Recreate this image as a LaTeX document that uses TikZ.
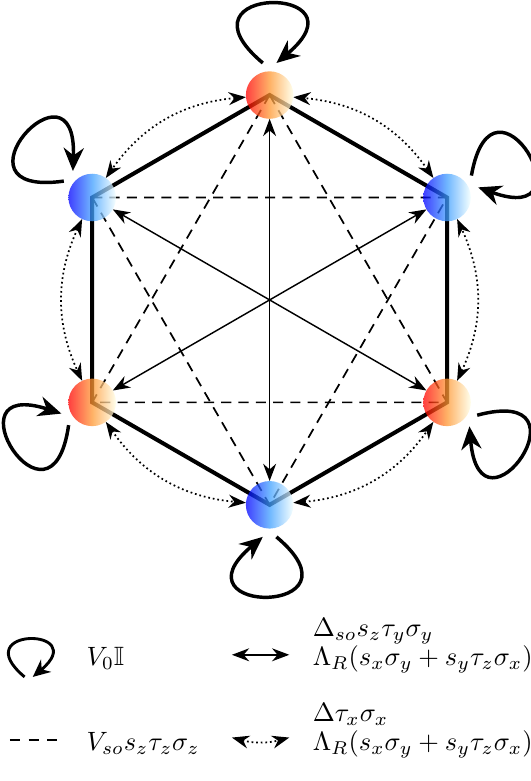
\documentclass[tikz,border=0pt]{standalone}
\usepackage{amsmath}
\usepackage{amssymb}
\usetikzlibrary{arrows.meta,calc}

\begin{document}
\begin{tikzpicture}[
  site/.style={circle, minimum size=0.58cm, inner sep=0pt, outer sep=0pt},
  redball/.style={left color=red, right color=yellow!10, middle color=orange!80, opacity=0.75},
  blueball/.style={left color=blue, right color=cyan!5, middle color=blue!50!cyan!75, opacity=0.75},
  hexedge/.style={line width=1.4pt},
  trimer/.style={dash pattern=on 3.5pt off 2.5pt, line width=0.6pt},
  across/.style={{Stealth[length=6pt,width=4.5pt]}-{Stealth[length=6pt,width=4.5pt]}, line width=0.5pt},
  hop/.style={{Stealth[length=6pt,width=4.5pt]}-{Stealth[length=6pt,width=4.5pt]}, densely dotted, line width=0.6pt},
  selfloop/.style={-{Stealth[length=8pt,width=7pt]}, line width=1.2pt},
  legtext/.style={anchor=base west, inner sep=0pt, scale=0.92, transform shape}
]
  \useasboundingbox (-3.29,-5.87) rectangle (3.18,3.66);

  \node[site] (r1) at (90:2.5) {};
  \node[site] (b1) at (150:2.5) {};
  \node[site] (r2) at (210:2.5) {};
  \node[site] (b3) at (270:2.5) {};
  \node[site] (r3) at (330:2.5) {};
  \node[site] (b2) at (30:2.5) {};

  \draw[trimer] (r1.center) -- (r2.center) -- (r3.center) -- cycle;
  \draw[trimer] (b1.center) -- (b2.center) -- (b3.center) -- cycle;
  \draw[hexedge] (r1.center) -- (b1.center) -- (r2.center) -- (b3.center) -- (r3.center) -- (b2.center) -- cycle;

  \draw[across] (r1) -- (b3);
  \draw[across] (b1) -- (r3);
  \draw[across] (b2) -- (r2);

  \draw[hop] (r1) to[bend right=25] (b1);
  \draw[hop] (b1) to[bend right=25] (r2);
  \draw[hop] (r2) to[bend right=25] (b3);
  \draw[hop] (b3) to[bend right=25] (r3);
  \draw[hop] (r3) to[bend right=25] (b2);
  \draw[hop] (b2) to[bend right=25] (r1);

  \foreach \n/\a in {r1/90, b1/138, r2/212, b3/270, r3/325, b2/30}
    \draw[selfloop] ($(\n)+(\a+12:0.4)$) .. controls +(\a+50:1.5) and +(\a-50:1.5) .. ($(\n)+(\a-12:0.4)$);

  \foreach \n in {r1,r2,r3}
    \shade[redball] (\n) circle (0.29);
  \foreach \n in {b1,b2,b3}
    \shade[blueball] (\n) circle (0.29);

  \coordinate (l0) at (-2.94,-4.6);
  \draw[selfloop, -{Stealth[length=6pt,width=5.5pt]}, line width=1pt] ($(l0)+(-0.05,0)$) .. controls +(140:0.95) and +(40:0.95) .. ($(l0)+(0.05,0)$);
  \node[legtext] (v0) at (-2.24,-4.465) {$V_0\mathbb{I}$};
  \coordinate (a0) at (-0.46,-4.33);
  \coordinate (a1) at (0.24,-4.33);
  \draw[across] (a0) -- (a1);
  \node[legtext] (d1) at (0.52,-4.11) {$\Delta_{so}s_z\tau_y\sigma_y$};
  \node[legtext] (d2) at (0.52,-4.465) {$\Lambda_R(s_x\sigma_y+s_y\tau_z\sigma_x)$};

  \coordinate (e0) at (-3.17,-5.37);
  \coordinate (e1) at (-2.59,-5.37);
  \draw[dash pattern=on 3.5pt off 3pt, line width=0.6pt] (e0) -- (e1);
  \node[legtext] (v1) at (-2.24,-5.50) {$V_{so}s_z\tau_z\sigma_z$};
  \coordinate (c0) at (-0.46,-5.34);
  \coordinate (c1) at (0.24,-5.34);
  \draw[hop] (c0) to[bend right=15] (c1);
  \node[legtext] (d3) at (0.52,-5.15) {$\Delta\tau_x\sigma_x$};
  \node[legtext] (d4) at (0.52,-5.50) {$\Lambda_R(s_x\sigma_y+s_y\tau_z\sigma_x)$};
\end{tikzpicture}
\end{document}
